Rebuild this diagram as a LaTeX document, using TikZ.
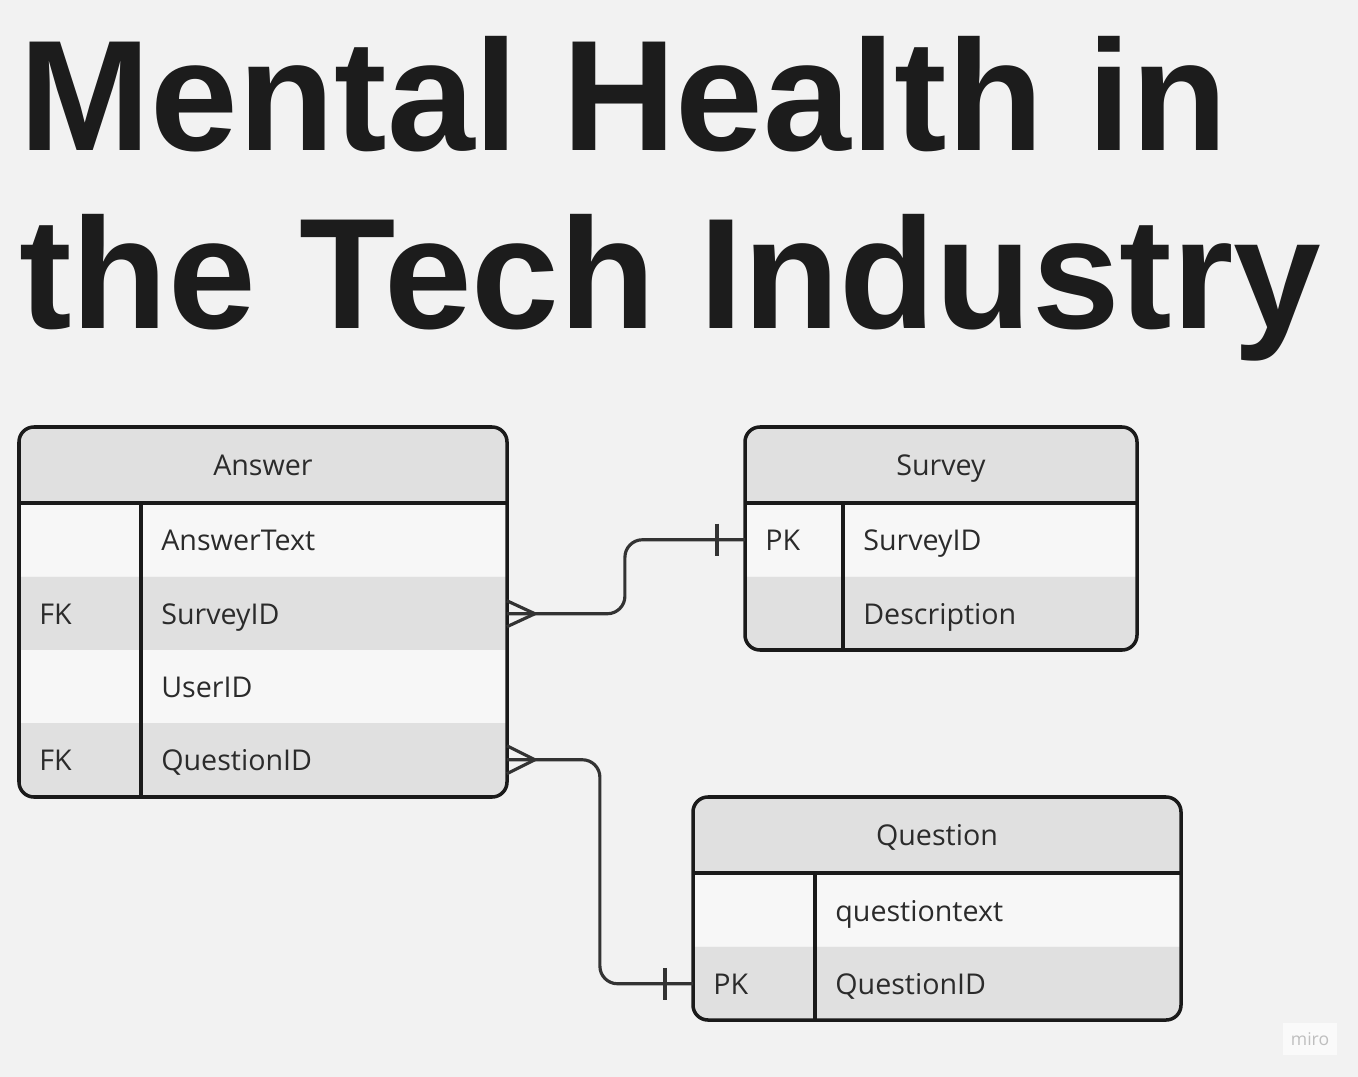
\documentclass[tikz,border=0pt]{standalone}
\usepackage{fontspec}
\setmainfont{Open Sans}
\newfontfamily\titlefont{Liberation Sans}

\definecolor{canvas}{HTML}{F2F2F2}
\definecolor{rowlight}{HTML}{F7F7F7}
\definecolor{rowdark}{HTML}{E0E0E0}
\definecolor{edge}{HTML}{1A1A1A}
\definecolor{link}{HTML}{333333}
\definecolor{ink}{HTML}{2B2B2B}
\definecolor{headline}{HTML}{1C1C1C}

\tikzset{
    tablerow/.style={inner sep=0pt, outer sep=0pt, minimum height=1.47cm,
                     anchor=north west},
    tablehead/.style={tablerow, fill=rowdark, minimum height=1.52cm,
                      font=\fontsize{16.3}{19}\selectfont, text=ink,
                      text height=11.6pt, text depth=0pt},
    celltext/.style={anchor=west, inner sep=0pt,
                     font=\fontsize{16.3}{19}\selectfont, text=ink,
                     text height=11.6pt, text depth=0pt},
    tableedge/.style={draw=edge, line width=2pt},
    relation/.style={draw=link, line width=1.8pt},
}

\begin{document}
\begin{tikzpicture}[x=0.02cm, y=-0.02cm]
    \fill[canvas] (0,0) rectangle (1358,1077);

    \node[anchor=base west, inner sep=0pt, text=headline,
          font=\titlefont\bfseries\fontsize{89.7}{99}\selectfont] (title1)
          at (19,151) {Mental Health in};
    \node[anchor=base west, inner sep=0pt, text=headline,
          font=\titlefont\bfseries\fontsize{89.7}{99}\selectfont] (title2)
          at (19,329) {the Tech Industry};

    % Answer
    \begin{scope}
        \clip[rounded corners=8.5pt] (19,427) rectangle (507,797);
        \node[tablehead, minimum width=9.76cm] (answer) at (19,427) {Answer};
        \node[tablerow, fill=rowlight, minimum width=9.76cm] (ans1) at (19,503) {};
        \node[tablerow, fill=rowdark, minimum width=9.76cm] (ans2) at (19,577) {};
        \node[tablerow, fill=rowlight, minimum width=9.76cm] (ans3) at (19,650) {};
        \node[tablerow, fill=rowdark, minimum width=9.76cm] (ans4) at (19,723) {};
    \end{scope}
    \draw[tableedge, rounded corners=8.5pt] (19,427) rectangle (507,797);
    \draw[tableedge] (19,503) -- (507,503);
    \draw[tableedge] (141,503) -- (141,797);
    \node[celltext] (ans1f) at (161,540) {AnswerText};
    \node[celltext] (ans2k) at (39,614) {FK};
    \node[celltext] (ans2f) at (161,614) {SurveyID};
    \node[celltext] (ans3f) at (161,687) {UserID};
    \node[celltext] (ans4k) at (39,760) {FK};
    \node[celltext] (ans4f) at (161,760) {QuestionID};

    % Survey
    \begin{scope}
        \clip[rounded corners=8.5pt] (745,427) rectangle (1137,650);
        \node[tablehead, minimum width=7.84cm] (survey) at (745,427) {Survey};
        \node[tablerow, fill=rowlight, minimum width=7.84cm] (sur1) at (745,503) {};
        \node[tablerow, fill=rowdark, minimum width=7.84cm] (sur2) at (745,577) {};
    \end{scope}
    \draw[tableedge, rounded corners=8.5pt] (745,427) rectangle (1137,650);
    \draw[tableedge] (745,503) -- (1137,503);
    \draw[tableedge] (843,503) -- (843,650);
    \node[celltext] (sur1k) at (765,540) {PK};
    \node[celltext] (sur1f) at (863,540) {SurveyID};
    \node[celltext] (sur2f) at (863,614) {Description};

    % Question
    \begin{scope}
        \clip[rounded corners=8.5pt] (693,797) rectangle (1181,1020);
        \node[tablehead, minimum width=9.76cm] (question) at (693,797) {Question};
        \node[tablerow, fill=rowlight, minimum width=9.76cm] (que1) at (693,873) {};
        \node[tablerow, fill=rowdark, minimum width=9.76cm] (que2) at (693,947) {};
    \end{scope}
    \draw[tableedge, rounded corners=8.5pt] (693,797) rectangle (1181,1020);
    \draw[tableedge] (693,873) -- (1181,873);
    \draw[tableedge] (815,873) -- (815,1020);
    \node[celltext] (que1f) at (835,911) {questiontext};
    \node[celltext] (que2k) at (713,984) {PK};
    \node[celltext] (que2f) at (835,984) {QuestionID};

    % relations
    \draw[relation, rounded corners=10pt] (ans2.east) -- ++(118,0) |- (sur1.west);
    \draw[relation] (ans2.east) ++(0,-13) -- ++(28,13) -- ++(-28,13);
    \draw[relation] (sur1.west) ++(-28,-16) -- ++(0,32);

    \draw[relation, rounded corners=10pt] (ans4.east) -- ++(93,0) |- (que2.west);
    \draw[relation] (ans4.east) ++(0,-14) -- ++(28,14) -- ++(-28,14);
    \draw[relation] (que2.west) ++(-28,-16) -- ++(0,32);

    \node[fill=white!60!canvas, minimum width=1.08cm, minimum height=0.64cm,
          inner sep=0pt, text=black!25, font=\fontsize{10}{12}\selectfont]
          (miro) at (1310,1039) {miro};
\end{tikzpicture}
\end{document}
